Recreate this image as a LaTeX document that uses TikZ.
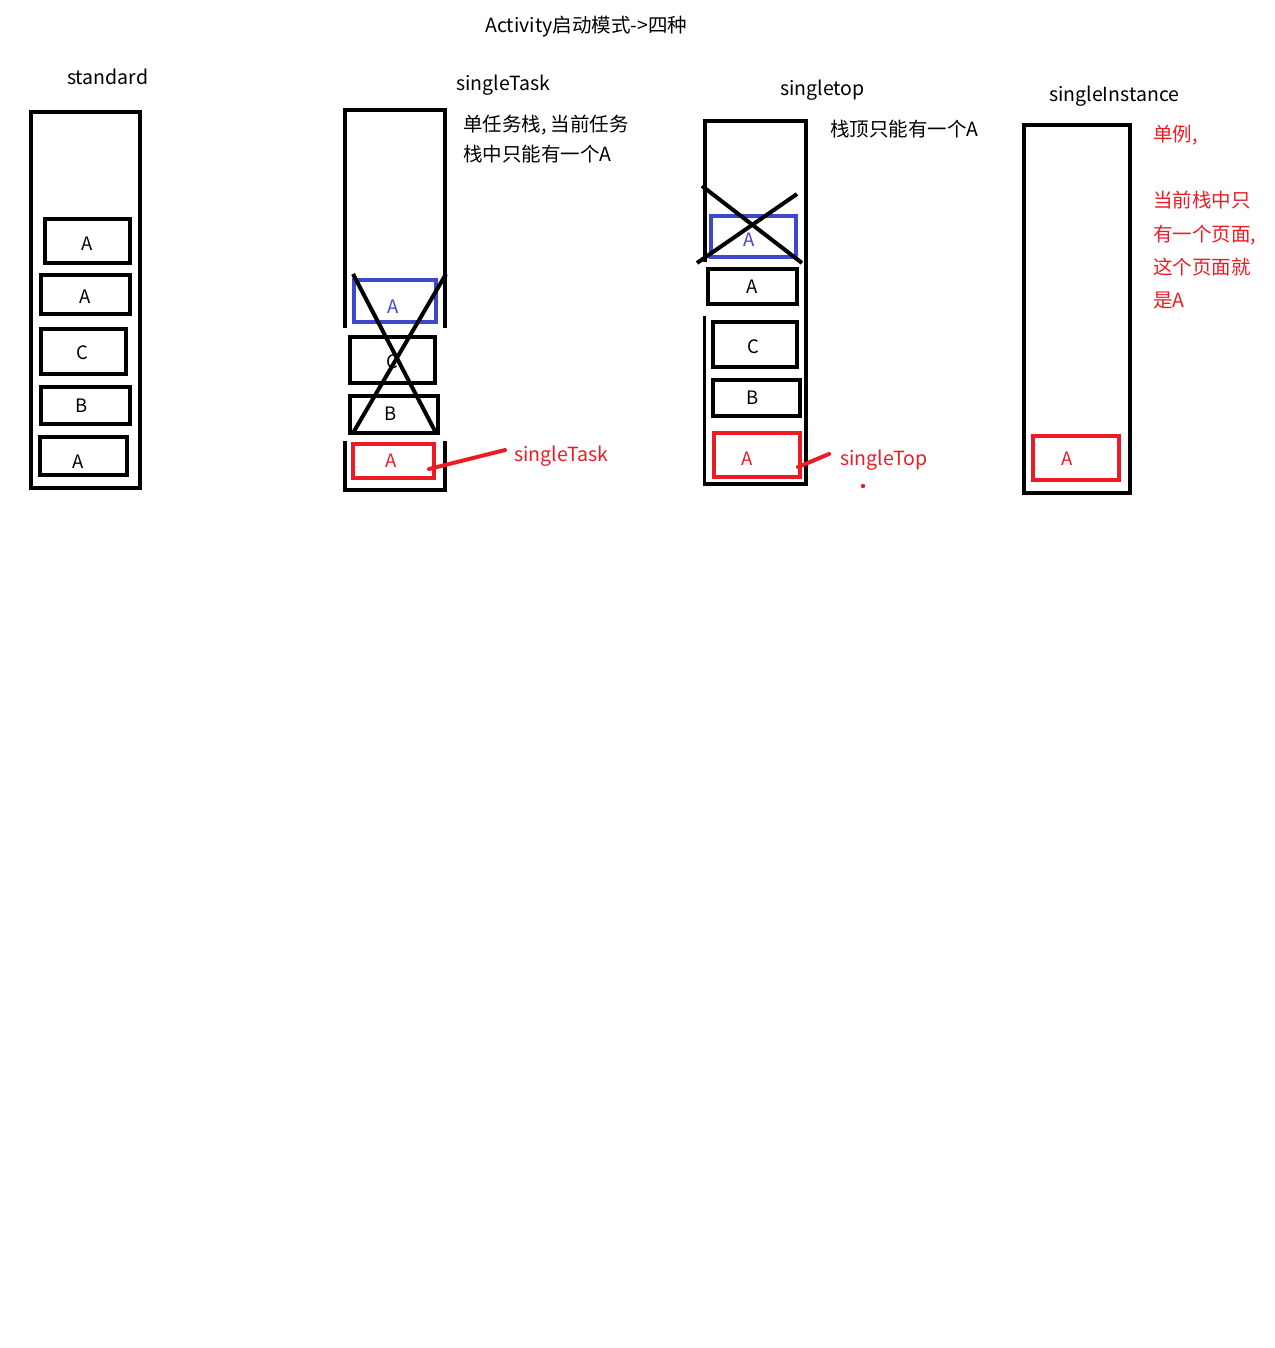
\documentclass[tikz,border=0pt]{standalone}
\usepackage{fontspec}
\setmainfont{Noto Sans CJK SC}
\definecolor{pred}{HTML}{ED1C24}
\definecolor{pblue}{HTML}{3F48CC}
\begin{document}
\begin{tikzpicture}[x=1pt,y=-1pt,
  stackline/.style={draw=black,line width=4pt},
  boxline/.style={draw=black,line width=4pt},
  bluebox/.style={draw=pblue,line width=4pt},
  redbox/.style={draw=pred,line width=4pt},
  crossline/.style={draw=black,line width=4pt},
  redline/.style={draw=pred,line width=4pt,line cap=round},
  txt/.style={font=\fontsize{19.5}{22}\selectfont,anchor=base west,inner sep=0pt},
  lbl/.style={font=\fontsize{18.5}{20}\selectfont,anchor=base,inner sep=0pt},
  gap/.style={fill=white,draw=none}]
\useasboundingbox[fill=white] (0,0) rectangle (1274,1348);

% title
\node[txt] (title) at (485,33) {Activity启动模式->四种};

% ---------- standard ----------
\node[txt] (stdT) at (67,85) {standard};
\draw[stackline] (31,112) rectangle (140,488);
\draw[boxline] (45,219) rectangle (130,263);
\draw[boxline] (41,275) rectangle (130,314);
\draw[boxline] (41,329) rectangle (126,374);
\draw[boxline] (41,387) rectangle (130,424);
\draw[boxline] (40,437) rectangle (127,475);
\node[lbl] (s1) at (87,251) {A};
\node[lbl] (s2) at (85,303) {A};
\node[lbl] (s3) at (82,359) {C};
\node[lbl] (s4) at (82,412) {B};
\node[lbl] (s5) at (78,468) {A};

% ---------- singleTask ----------
\node[txt] (stT) at (456,91) {singleTask};
\node[txt] (stD1) at (463,132) {单任务栈, 当前任务};
\node[txt] (stD2) at (463,162) {栈中只能有一个A};
\draw[stackline] (345,110) rectangle (445,490);
\fill[gap] (342,328) rectangle (448,441);
\draw[bluebox] (354,280) rectangle (436,322);
\draw[boxline] (350,337) rectangle (435,383);
\draw[boxline] (350,396) rectangle (438,433);
\draw[redbox] (353,444) rectangle (434,478);
\node[lbl,text=pblue] (t1) at (393,313) {A};
\node[lbl] (t2) at (392,368) {C};
\node[lbl] (t3) at (391,420) {B};
\node[lbl,text=pred] (t4) at (391,467) {A};
\coordinate (c1a) at (353,274);
\coordinate (c1b) at (436,433);
\coordinate (c2a) at (446,274);
\coordinate (c2b) at (353,433);
\draw[crossline] (c1a) -- (c1b);
\draw[crossline] (c2a) -- (c2b);
\node[txt,text=pred] (tLab) at (514,461) {singleTask};
\coordinate (tFrom) at (429,469);
\coordinate (tTo) at (505,450);
\draw[redline] (tFrom) -- (tTo);

% ---------- singletop ----------
\node[txt] (spT) at (780,96) {singletop};
\node[txt] (spD) at (830,137) {栈顶只能有一个A};
\draw[draw=black,line width=4pt] (705,121) -- (806,121) -- (806,484) -- (705,484);
\draw[draw=black,line width=4pt] (705,119) -- (705,262);
\draw[draw=black,line width=3pt] (704.5,316) -- (704.5,486);
\draw[bluebox] (711,216) rectangle (796,257);
\draw[boxline] (708,269) rectangle (797,304);
\draw[boxline] (713,322) rectangle (797,367);
\draw[boxline] (713,380) rectangle (800,416);
\draw[redbox] (714,433) rectangle (800,477);
\node[lbl,text=pblue] (p1) at (749,247) {A};
\node[lbl] (p2) at (752,293) {A};
\node[lbl] (p3) at (753,353) {C};
\node[lbl] (p4) at (753,404) {B};
\node[lbl,text=pred] (p5) at (747,465) {A};
\coordinate (d1a) at (702,186);
\coordinate (d1b) at (802,263);
\coordinate (d2a) at (797,194);
\coordinate (d2b) at (697,263);
\draw[crossline] (d1a) -- (d1b);
\draw[crossline] (d2a) -- (d2b);
\node[txt,text=pred] (pLab) at (840,465) {singleTop};
\coordinate (pFrom) at (798,467);
\coordinate (pTo) at (829,454);
\draw[redline] (pFrom) -- (pTo);
\fill[pred] (863,486) circle (2.2);

% ---------- singleInstance ----------
\node[txt] (siT) at (1049,102) {singleInstance};
\draw[stackline] (1024,125) rectangle (1130,493);
\draw[redbox] (1033,436) rectangle (1119,480);
\node[lbl,text=pred] (i1) at (1067,465) {A};
\node[txt,text=pred] (iD1) at (1153,142) {单例,};
\node[txt,text=pred] (iD2) at (1153,208) {当前栈中只};
\node[txt,text=pred] (iD3) at (1153,242) {有一个页面,};
\node[txt,text=pred] (iD4) at (1153,274) {这个页面就};
\node[txt,text=pred] (iD5) at (1153,307) {是A};
\end{tikzpicture}
\end{document}
